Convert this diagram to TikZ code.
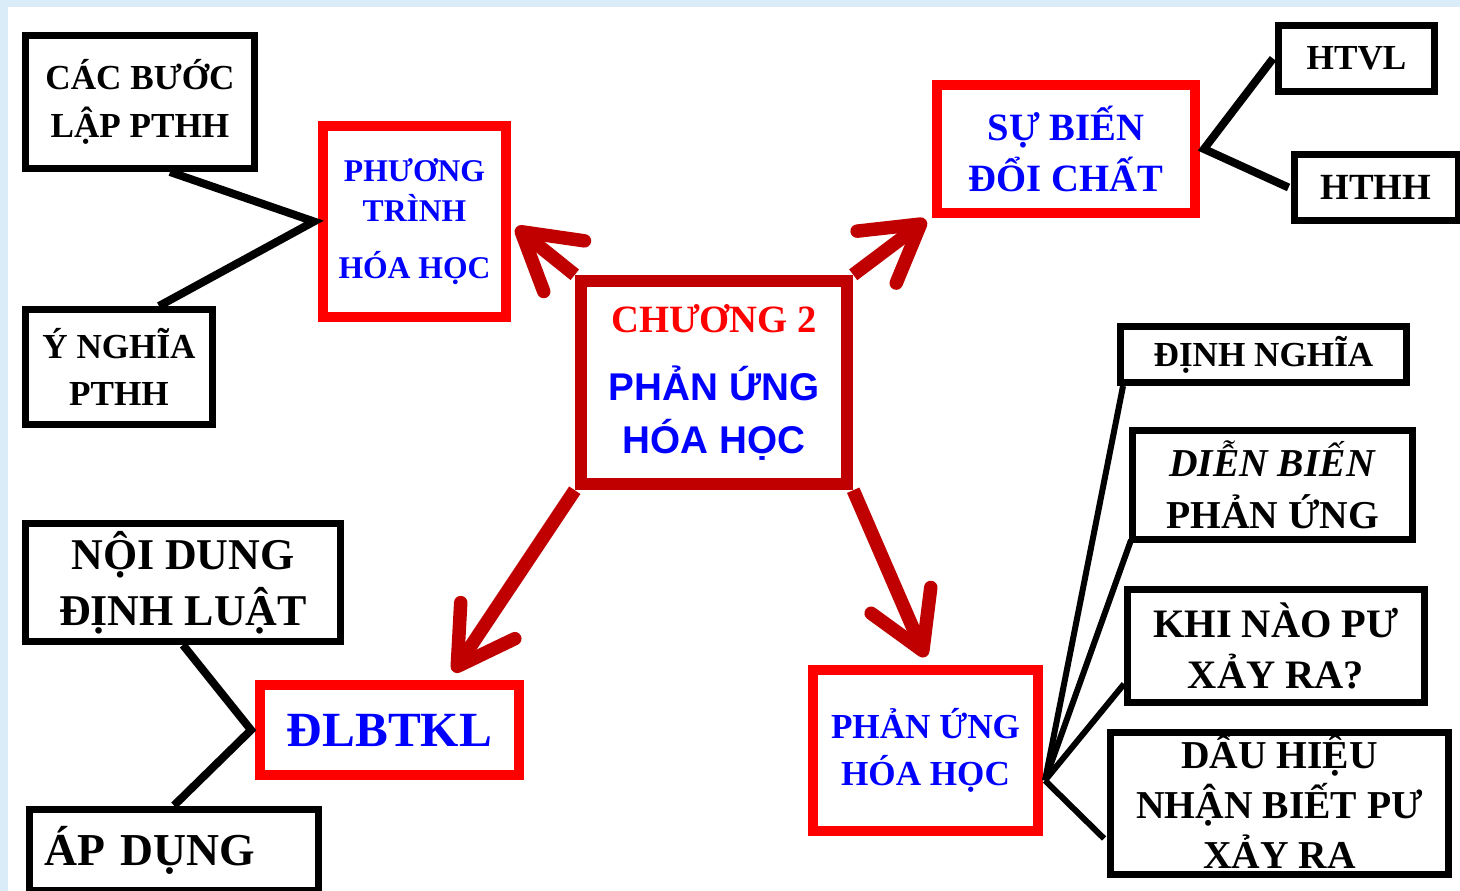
\documentclass[tikz,border=0pt]{standalone}
\usepackage{fontspec}
\setmainfont{Liberation Serif}
\setsansfont{Liberation Sans}
\usepackage{tikz}
\usetikzlibrary{arrows.meta,calc}
\definecolor{hubred}{RGB}{192,0,0}
\definecolor{bgblue}{RGB}{218,236,248}

\begin{document}
\begin{tikzpicture}[x=0.02cm,y=-0.02cm,
  leaf/.style={draw=black,line width=0.14cm,fill=white,inner sep=0pt,align=center},
  topic/.style={draw=red,line width=0.2cm,fill=white,inner sep=0pt,align=center,text=blue},
  link/.style={line width=0.16cm},
  twig/.style={line width=0.12cm},
  branch/.style={draw=hubred,line width=0.27cm,-{Straight Barb[round,length=1.1cm,width=1.3cm]}}]
\useasboundingbox (0,0) rectangle (1460,891);
\clip (0,0) rectangle (1460,891);
\fill[bgblue] (0,0) rectangle (1460,891);
\fill[white] (8,7) rectangle (1460,891);
\node[leaf,minimum width=4.58cm,minimum height=2.66cm,font=\bfseries\fontsize{20}{27}\selectfont] (cacbuoc) at (140,102) {CÁC BƯỚC\\LẬP PTHH};
\node[leaf,minimum width=3.74cm,minimum height=2.30cm,font=\bfseries\fontsize{20}{27}\selectfont] (ynghia) at (119,367) {Ý NGHĨA\\PTHH};
\node[topic,minimum width=3.66cm,minimum height=3.82cm,font=\bfseries\fontsize{18}{23}\selectfont] (pthh) at (414.5,221.5) {PHƯƠNG\\TRÌNH\\[9pt]HÓA HỌC};
\node[draw=hubred,line width=0.25cm,fill=white,inner sep=0pt,align=center,minimum width=5.32cm,minimum height=4.06cm,font=\bfseries\fontsize{22}{30}\selectfont] (hub) at (714,382.5) {{\color{red}CHƯƠNG 2}\\[9pt]{\sffamily\color{blue}PHẢN ỨNG}\\{\sffamily\color{blue}HÓA HỌC}};
\node[topic,minimum width=5.16cm,minimum height=2.56cm,font=\bfseries\fontsize{22}{29.5}\selectfont] (sbdc) at (1066,149) {SỰ BIẾN\\ĐỔI CHẤT};
\node[leaf,minimum width=3.12cm,minimum height=1.32cm,font=\bfseries\fontsize{20}{24}\selectfont] (htvl) at (1356.5,58.5) {HTVL};
\node[leaf,minimum width=3.28cm,minimum height=1.32cm,font=\bfseries\fontsize{21}{24}\selectfont] (hthh) at (1376,187.5) {HTHH};
\node[leaf,minimum width=5.72cm,minimum height=1.12cm,font=\bfseries\fontsize{20}{24}\selectfont] (dinhnghia) at (1263.5,354.5) {ĐỊNH NGHĨA};
\node[leaf,minimum width=5.6cm,minimum height=2.18cm,font=\bfseries\fontsize{22.5}{29.5}\selectfont] (dienbien) at (1272.5,485) {\textit{DIỄN BIẾN}\\PHẢN ỨNG};
\node[leaf,minimum width=5.94cm,minimum height=2.26cm,font=\bfseries\fontsize{23}{29.5}\selectfont] (khinao) at (1276,646) {KHI NÀO PƯ\\XẢY RA?};
\node[leaf,minimum width=6.76cm,minimum height=2.84cm,font=\bfseries\fontsize{22.5}{28.5}\selectfont] (dauhieu) at (1279.5,803.5) {\raisebox{0pt}[17pt]{DẤU HIỆU}\\NHẬN BIẾT PƯ\\XẢY RA};
\node[topic,minimum width=4.5cm,minimum height=3.22cm,font=\bfseries\fontsize{20}{27}\selectfont] (pungs) at (925.5,750.5) {PHẢN ỨNG\\HÓA HỌC};
\node[topic,minimum width=5.18cm,minimum height=1.8cm,font=\bfseries\fontsize{28}{32}\selectfont] (dlbtkl) at (389.5,730) {ĐLBTKL};
\node[leaf,minimum width=6.3cm,minimum height=2.36cm,font=\bfseries\fontsize{25}{32}\selectfont] (noidung) at (183,582.5) {NỘI DUNG\\ĐỊNH LUẬT};
\node[leaf,minimum height=1.64cm,text width=5.18cm,inner xsep=0.3cm,align=left,font=\bfseries\fontsize{26}{30}\selectfont] (apdung) at (174,850) {ÁP DỤNG};
\draw[link] ($(cacbuoc.south)+(30,0)$) -- ($(pthh.west)+(-4,0)$) -- ($(ynghia.north)+(40,0)$);
\draw[link] ($(htvl.west)+(-2,0)$) -- ($(sbdc.east)+(4,0)$) -- ($(hthh.west)+(-2,0)$);
\draw[link] (noidung.south) -- ($(dlbtkl.west)+(-4,0)$) -- (apdung.north);
\coordinate (pujoin) at ($(pungs.east)+(2,30)$);
\draw[twig] (pujoin) -- ($(dinhnghia.south west)+(6,0)$);
\draw[twig] (pujoin) -- ($(dienbien.south west)+(2,-3)$);
\draw[twig] (pujoin) -- ($(khinao.south west)+(0,-22)$);
\draw[twig] (pujoin) -- ($(dauhieu.west)+(-3,35)$);
\draw[branch] (hub.north west) -- ($(pthh.east)+(5,6)$);
\draw[branch] (hub.north east) -- ($(sbdc.south west)+(-6,2)$);
\draw[branch] (hub.south west) -- ($(dlbtkl.north)+(64,-8)$);
\draw[branch] (hub.south east) -- ($(pungs.north)+(0,-8)$);
\end{tikzpicture}
\end{document}
